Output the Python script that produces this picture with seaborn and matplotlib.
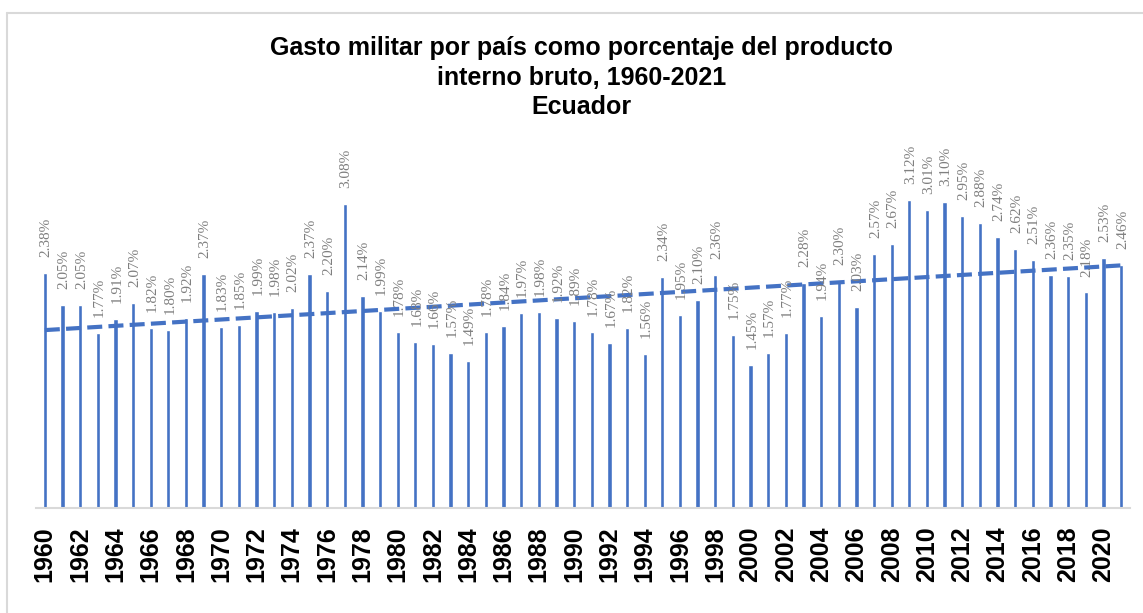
import numpy as np
import pandas as pd
import matplotlib
matplotlib.use("Agg")
import matplotlib.pyplot as plt
from matplotlib.lines import Line2D
import seaborn as sns

years = list(range(1960, 2022))
values = [2.38, 2.05, 2.05, 1.77, 1.91, 2.07, 1.82, 1.80, 1.92, 2.37,
          1.83, 1.85, 1.99, 1.98, 2.02, 2.37, 2.20, 3.08, 2.14, 1.99,
          1.78, 1.68, 1.66, 1.57, 1.49, 1.78, 1.84, 1.97, 1.98, 1.92,
          1.89, 1.78, 1.67, 1.82, 1.56, 2.34, 1.95, 2.10, 2.36, 1.75,
          1.45, 1.57, 1.77, 2.28, 1.94, 2.30, 2.03, 2.57, 2.67, 3.12,
          3.01, 3.10, 2.95, 2.88, 2.74, 2.62, 2.51, 2.36, 2.35, 2.18,
          2.53, 2.46]
title = "Gasto militar por país como porcentaje del producto\ninterno bruto, 1960-2021\nEcuador"

df = pd.DataFrame({"year": [str(y) for y in years], "value": values})
df["pos"] = np.arange(len(df))

sns.set_theme(style="white")
plt.rcParams["font.family"] = ["Liberation Sans", "DejaVu Sans"]

BLUE = "#4472C4"
fig = plt.figure(figsize=(11.43, 6.13), dpi=100)
ax = fig.add_axes([0.0315, 0.1713, 0.957, 0.5644])

sns.barplot(data=df, x="year", y="value", color=BLUE, saturation=1,
            width=0.24, ax=ax, zorder=2)

sns.regplot(data=df, x="pos", y="value", scatter=False, ci=None, ax=ax,
            line_kws=dict(color=BLUE, lw=3, ls=(0, (3.6, 1.5)),
                          dash_capstyle="butt", zorder=3))

for i, v in enumerate(values):
    ax.annotate(f"{v:.2f}%", xy=(i, v), xytext=(1, 11.5),
                textcoords="offset points", rotation=90, ha="center",
                va="bottom", fontsize=11, color="#7f7f7f",
                family="Liberation Serif", zorder=4)

ax.set_xlim(-0.5, len(years) - 0.5)
ax.set_ylim(0, 3.5)
ax.set_xlabel("")
ax.set_ylabel("")
ax.set_yticks([])
ticks = list(range(0, len(years), 2))
ax.set_xticks(ticks)
ax.set_xticklabels([str(years[i]) for i in ticks], rotation=90,
                   fontsize=18, fontweight="bold", color="black")
ax.tick_params(axis="x", length=0, pad=13)
for s in ["top", "right", "left"]:
    ax.spines[s].set_visible(False)
ax.spines["bottom"].set_color("#d9d9d9")
ax.spines["bottom"].set_linewidth(1.5)

fig.text(0.509, 1 - 36 / 613, title, ha="center", va="top", fontsize=18,
         fontweight="bold", color="black", linespacing=1.3)

# chart border
fig.add_artist(Line2D([7 / 1143, 7 / 1143], [0, 1 - 13 / 613],
                      transform=fig.transFigure, color="#d9d9d9", lw=1.5))
fig.add_artist(Line2D([7 / 1143, 1], [1 - 13 / 613, 1 - 13 / 613],
                      transform=fig.transFigure, color="#d9d9d9", lw=1.5))

fig.savefig("out.png", dpi=100, facecolor="white")
